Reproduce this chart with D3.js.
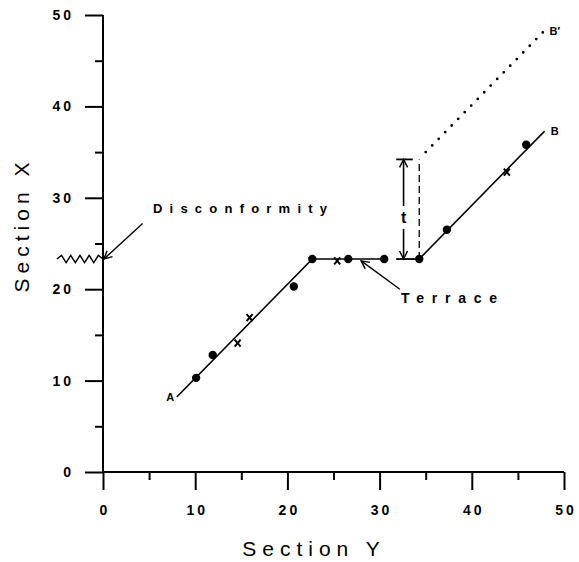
<!DOCTYPE html>
<html><head><meta charset="utf-8">
<script src="https://cdn.jsdelivr.net/npm/d3@7"></script>
<style>body{margin:0;background:#fff}</style>
</head><body>
<script>
// ---- data ----
const xMajorTicks = [0,10,20,30,40,50];
const xMinorTicks = [5,15,25,35,45];
const yMajorTicks = [0,10,20,30,40,50];
const yMinorTicks = [5,15,25,35,45];
const lineA = [[8.0,8.2],[22.7,23.3],[30.5,23.3]];
const lineB = [[34.3,23.3],[47.9,37.3]];
const lineBprime = [[35.0,35.0],[47.8,48.2]];
const dotPoints = [[10.1,10.3],[11.9,12.8],[20.7,20.3],[22.7,23.3],[26.6,23.3],[30.5,23.3],[34.3,23.3],[37.3,26.5],[45.9,35.8]];
const crossPoints = [[14.6,14.1],[15.9,16.9],[25.4,23.1],[43.8,32.8]];
const terraceLevel = 23.3;
const tTop = 34.2;
const tX = 32.6;
const tBar = [31.8, 34.3];
const dashedX = 34.3;
const zigzag = [[-5.0,23.3],[-4.5,23.7],[-4.0,22.9],[-3.5,23.7],[-3.0,22.9],[-2.5,23.7],[-2.0,22.9],[-1.5,23.7],[-1.0,22.9],[-0.5,23.7],[0,23.3]];
const disconfArrow = [[4.3,27.2],[0.1,23.3]];
const terraceArrow = [[32.2,20.0],[28.0,23.1]];
const labels = [
  {text:"A", x:7.3, y:8.2},
  {text:"B", x:49.0, y:37.3},
  {text:"B\u2032", x:49.0, y:48.2}
];

// ---- layout ----
const W = 579, H = 562;
const x = d3.scaleLinear().domain([0,50]).range([103,564]);
const y = d3.scaleLinear().domain([0,50]).range([472,15]);

const svg = d3.select("body").append("svg").attr("width",W).attr("height",H)
  .style("font-family","'Liberation Sans', Arial, sans-serif");

const defs = svg.append("defs");
defs.append("marker").attr("id","vhead").attr("viewBox","-10 -6 12 12")
  .attr("refX",0).attr("refY",0).attr("markerWidth",12).attr("markerHeight",12)
  .attr("markerUnits","userSpaceOnUse").attr("orient","auto")
  .append("path").attr("d","M-8,-4 L0,0 L-8,4").attr("fill","none").attr("stroke","#000").attr("stroke-width",1.4);

// axes
const gx = svg.append("g").attr("transform",`translate(0,${y(0)})`);
gx.call(d3.axisBottom(x).tickValues(xMajorTicks).tickSize(18).tickFormat(d3.format("d")));
const gxm = svg.append("g").attr("transform",`translate(0,${y(0)})`);
gxm.call(d3.axisBottom(x).tickValues(xMinorTicks).tickSize(8).tickFormat(""));
gxm.select(".domain").remove();
const gy = svg.append("g").attr("transform",`translate(${x(0)},0)`);
gy.call(d3.axisLeft(y).tickValues(yMajorTicks).tickSize(18).tickFormat(d3.format("d")));
const gym = svg.append("g").attr("transform",`translate(${x(0)},0)`);
gym.call(d3.axisLeft(y).tickValues(yMinorTicks).tickSize(8).tickFormat(""));
gym.select(".domain").remove();
[gx,gy].forEach(g=>g.select(".domain").attr("stroke-width",2).attr("d", g===gx ? `M${x(0)},0H${x(50)}` : `M0,${y(0)}V${y(50)}`));
svg.selectAll(".tick line").attr("stroke","#000").attr("stroke-width",2);
gx.selectAll(".tick text").attr("dy","1.55em").attr("font-size",14).attr("font-weight","bold")
  .attr("letter-spacing","3px").attr("dx","1.5px").attr("fill","#000");
gy.selectAll(".tick text").attr("x",-29).attr("font-size",14).attr("font-weight","bold")
  .attr("letter-spacing","3px").attr("fill","#000");

// axis titles
svg.append("text").attr("x",314).attr("y",556).attr("text-anchor","middle")
  .attr("font-size",21).attr("letter-spacing","6px").text("Section Y");
svg.append("text").attr("transform",`translate(29,${225}) rotate(-90)`).attr("text-anchor","middle")
  .attr("font-size",21).attr("letter-spacing","5px").text("Section X");

const line = d3.line().x(d=>x(d[0])).y(d=>y(d[1]));

// data lines
svg.append("path").attr("d",line(lineA)).attr("fill","none").attr("stroke","#000").attr("stroke-width",1.6);
svg.append("path").attr("d",line(lineB)).attr("fill","none").attr("stroke","#000").attr("stroke-width",1.6);
svg.append("path").attr("d",line(lineBprime)).attr("fill","none").attr("stroke","#000")
  .attr("stroke-width",2.8).attr("stroke-linecap","round").attr("stroke-dasharray","0 9.3");

// t dimension
svg.append("path").attr("d",line([[tBar[0],terraceLevel],[tBar[1],terraceLevel]])).attr("stroke","#000").attr("stroke-width",1.8);
svg.append("path").attr("d",line([[tBar[0],tTop],[33.6,tTop]])).attr("stroke","#000").attr("stroke-width",1.8);
svg.append("path").attr("d",line([[tX,29.1],[tX,tTop]])).attr("fill","none").attr("stroke","#000").attr("stroke-width",1.6).attr("marker-end","url(#vhead)");
svg.append("path").attr("d",line([[tX,26.6],[tX,terraceLevel]])).attr("fill","none").attr("stroke","#000").attr("stroke-width",1.6).attr("marker-end","url(#vhead)");
svg.append("text").attr("x",x(tX)).attr("y",y(27.9)+6).attr("text-anchor","middle")
  .attr("font-size",16).attr("font-weight","bold").text("t");
svg.append("path").attr("d",line([[dashedX,terraceLevel],[dashedX,tTop]])).attr("stroke","#000")
  .attr("stroke-width",1.3).attr("stroke-dasharray","7 4");

// points
svg.selectAll("circle.dot").data(dotPoints).join("circle").attr("class","dot")
  .attr("cx",d=>x(d[0])).attr("cy",d=>y(d[1])).attr("r",4.2).attr("fill","#000");
svg.selectAll("path.cross").data(crossPoints).join("path").attr("class","cross")
  .attr("d",d=>{const cx=x(d[0]),cy=y(d[1]);return `M${cx-3},${cy-3.5}L${cx+3},${cy+3.5}M${cx+3},${cy-3.5}L${cx-3},${cy+3.5}`;})
  .attr("stroke","#000").attr("stroke-width",2).attr("fill","none");

// labels
svg.selectAll("text.pl").data(labels).join("text").attr("class","pl")
  .attr("x",d=>x(d.x)).attr("y",d=>y(d.y)+4).attr("text-anchor","middle")
  .attr("font-size",11).attr("font-weight","bold").text(d=>d.text);

// disconformity
svg.append("path").attr("d",line(zigzag)).attr("fill","none").attr("stroke","#000").attr("stroke-width",1.4);
svg.append("path").attr("d",line(disconfArrow)).attr("fill","none").attr("stroke","#000").attr("stroke-width",1.4).attr("marker-end","url(#vhead)");
svg.append("text").attr("x",153).attr("y",213).attr("font-size",13).attr("font-weight","bold")
  .attr("textLength",174).attr("lengthAdjust","spacing").text("Disconformity");

// terrace
svg.append("path").attr("d",line(terraceArrow)).attr("fill","none").attr("stroke","#000").attr("stroke-width",1.4).attr("marker-end","url(#vhead)");
svg.append("text").attr("x",401).attr("y",303).attr("font-size",14).attr("font-weight","bold")
  .attr("textLength",96).attr("lengthAdjust","spacing").text("Terrace");
</script>
</body></html>
